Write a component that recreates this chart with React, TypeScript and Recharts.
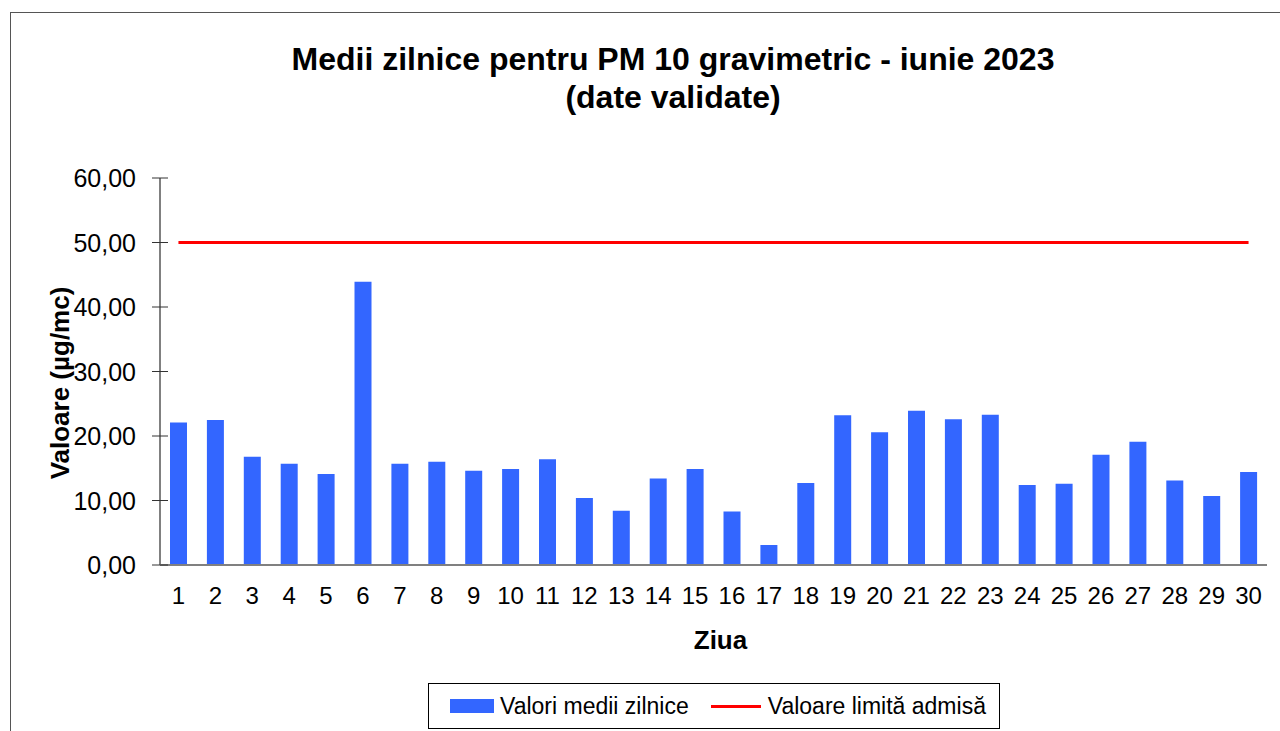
import React from 'react';
import { ComposedChart, Bar, Line, XAxis, YAxis } from 'recharts';

// zilele lunii iunie 2023
const days: string[] = Array.from({ length: 30 }, (_, i) => String(i + 1));

// medii zilnice PM10 (µg/mc)
const dailyMeans: number[] = [
    22.1, 22.5, 16.8, 15.7, 14.1, 43.9, 15.7, 16.0, 14.6, 14.9,
    16.4, 10.4, 8.4, 13.4, 14.9, 8.3, 3.1, 12.7, 23.2, 20.6,
    23.9, 22.6, 23.3, 12.4, 12.6, 17.1, 19.1, 13.1, 10.7, 14.4,
];

const limitValue = 50;
const yTicks: number[] = [0, 10, 20, 30, 40, 50, 60];

const data = days.map((d, i) => ({
    name: d,
    medie: dailyMeans[i],
    limita: limitValue,
}));

const FONT = '"Liberation Sans", Arial, sans-serif';
const BLUE = '#3366ff';
const RED = '#ff0000';
const AXIS = '#808080';

const fmt = (v: number) => v.toFixed(2).replace('.', ',');

// eticheta + liniuta care traverseaza axa (ca in Excel)
const YTick = (props: any) => {
    const { x, y, payload } = props;
    return (
        <g>
            <line x1={x + 16} x2={x + 32} y1={y} y2={y} stroke="#333" strokeWidth={1} />
            <text x={x} y={y} textAnchor="end" dominantBaseline="central" fontSize={25} fontFamily={FONT} fill="#000">
                {fmt(payload.value)}
            </text>
        </g>
    );
};

const App: React.FC = () => {
    return (
        <div style={{ position: 'fixed', left: 0, top: 0, width: 1280, height: 731, overflow: 'hidden', background: '#fff', fontFamily: FONT }}>
            {/* chenar exterior */}
            <div style={{ position: 'absolute', left: 10, top: 12, width: 1290, height: 740, border: '1px solid #555', boxSizing: 'border-box' }} />

            <div style={{ position: 'absolute', left: 0, top: 40, width: 1346, textAlign: 'center', fontSize: 32, fontWeight: 'bold', lineHeight: '38px', color: '#000' }}>
                Medii zilnice pentru PM 10 gravimetric - iunie 2023
                <br />
                (date validate)
            </div>

            <div style={{ position: 'absolute', left: 0, top: 0 }}>
                <ComposedChart
                    width={1280}
                    height={731}
                    data={data}
                    margin={{ top: 178, right: 13, bottom: 126, left: 60 }}
                    barSize={17}
                >
                    <XAxis
                        dataKey="name"
                        axisLine={{ stroke: AXIS, strokeWidth: 2 }}
                        tickLine={false}
                        height={40}
                        tickMargin={16}
                        tick={{ fill: '#000', fontSize: 24, fontFamily: FONT }}
                        interval={0}
                        label={{
                            content: ({ viewBox }: any) => (
                                <text
                                    x={viewBox.x + viewBox.width / 2 + 7}
                                    y={viewBox.y + 84}
                                    textAnchor="middle"
                                    fontSize={26}
                                    fontWeight="bold"
                                    fontFamily={FONT}
                                    fill="#000"
                                >
                                    Ziua
                                </text>
                            ),
                        }}
                    />
                    <YAxis
                        width={100}
                        domain={[0, 60]}
                        ticks={yTicks}
                        axisLine={{ stroke: AXIS, strokeWidth: 2 }}
                        tickLine={false}
                        tickSize={8}
                        tickMargin={16}
                        tick={<YTick />}
                        label={{
                            content: () => (
                                <text
                                    x={60}
                                    y={383}
                                    transform="rotate(-90 60 383)"
                                    textAnchor="middle"
                                    dominantBaseline="central"
                                    fontSize={26}
                                    fontWeight="bold"
                                    fontFamily={FONT}
                                    fill="#000"
                                >
                                    Valoare (µg/mc)
                                </text>
                            ),
                        }}
                    />
                    <Bar dataKey="medie" name="Valori medii zilnice" fill={BLUE} isAnimationActive={false} />
                    <Line
                        type="linear"
                        dataKey="limita"
                        name="Valoare limită admisă"
                        stroke={RED}
                        strokeWidth={3}
                        dot={false}
                        activeDot={false}
                        isAnimationActive={false}
                    />
                </ComposedChart>
            </div>

            {/* legenda */}
            <div style={{ position: 'absolute', left: 428, top: 683, width: 572, height: 46, border: '1px solid #000', boxSizing: 'border-box', display: 'flex', alignItems: 'center', fontSize: 23, color: '#000' }}>
                <span style={{ display: 'inline-block', width: 44, height: 14, background: BLUE, marginLeft: 21, marginRight: 6 }} />
                <span>Valori medii zilnice</span>
                <span style={{ display: 'inline-block', width: 50, height: 3, background: RED, marginLeft: 22, marginRight: 7 }} />
                <span>Valoare limită admisă</span>
            </div>
        </div>
    );
};

export default App;
